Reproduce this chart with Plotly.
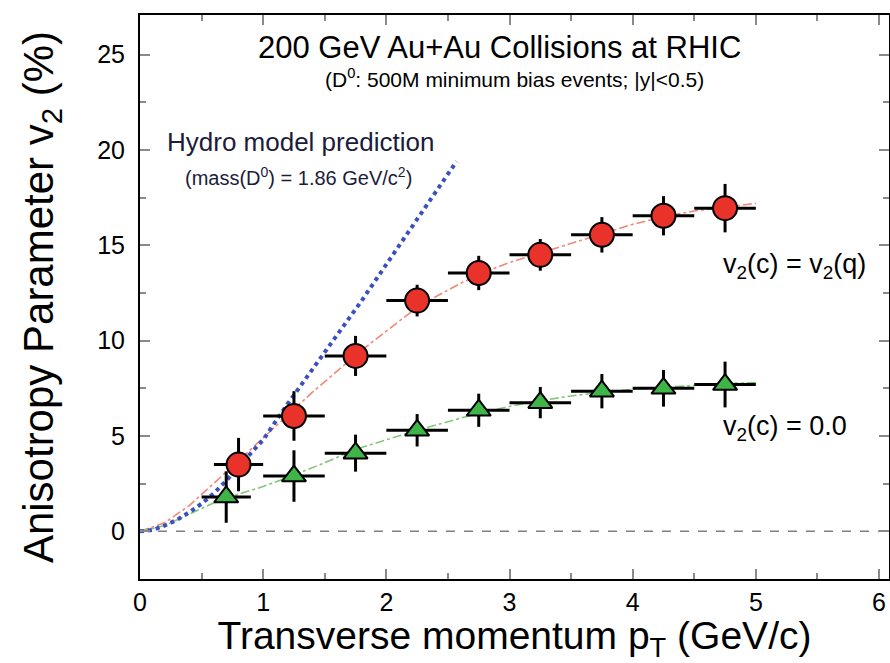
import plotly.graph_objects as go

# D0 v2 projection, v2(c) = v2(q) scenario
red_pt = [0.8, 1.25, 1.75, 2.25, 2.75, 3.25, 3.75, 4.25, 4.75]
red_v2 = [3.5, 6.05, 9.2, 12.1, 13.55, 14.5, 15.55, 16.55, 16.95]
red_err = [1.4, 1.3, 1.05, 0.83, 0.9, 0.83, 0.93, 1.03, 1.27]
red_bin = [0.2, 0.25, 0.25, 0.25, 0.25, 0.25, 0.25, 0.25, 0.25]

# D0 v2 projection, v2(c) = 0 scenario
green_pt = [0.7, 1.25, 1.75, 2.25, 2.75, 3.25, 3.75, 4.25, 4.75]
green_v2 = [1.8, 2.9, 4.1, 5.3, 6.35, 6.75, 7.35, 7.5, 7.7]
green_err = [1.35, 1.35, 0.97, 0.85, 0.87, 0.82, 0.9, 0.96, 1.2]
green_bin = [0.2, 0.25, 0.25, 0.25, 0.25, 0.25, 0.25, 0.25, 0.25]

# coalescence curves
red_fit_pt = [0, 0.2, 0.4, 0.6, 0.8, 1.0, 1.2, 1.4, 1.6, 1.8, 2.0, 2.2, 2.4, 2.6,
              2.8, 3.0, 3.25, 3.5, 3.75, 4.0, 4.25, 4.5, 4.75, 5.0]
red_fit_v2 = [0, 0.45, 1.35, 2.5, 3.7, 4.9, 6.1, 7.3, 8.4, 9.5, 10.5, 11.5, 12.3, 13.0,
              13.6, 14.1, 14.6, 15.1, 15.6, 16.1, 16.5, 16.8, 17.0, 17.2]
green_fit_pt = [0, 0.2, 0.4, 0.6, 0.8, 1.0, 1.25, 1.5, 1.75, 2.0, 2.25, 2.5, 2.75,
                3.0, 3.25, 3.5, 3.75, 4.0, 4.25, 4.5, 4.75, 5.0]
green_fit_v2 = [0, 0.3, 0.9, 1.5, 1.95, 2.35, 2.95, 3.6, 4.3, 4.8, 5.3, 5.75, 6.2,
                6.55, 6.85, 7.1, 7.3, 7.45, 7.55, 7.65, 7.75, 7.8]

# hydrodynamic prediction for mass 1.86 GeV/c^2
hydro_pt = [0, 0.1, 0.2, 0.3, 0.4, 0.5, 0.6, 0.7, 0.8, 0.9, 1.0, 1.2, 1.4, 1.6,
            1.8, 2.0, 2.2, 2.4, 2.57]
hydro_v2 = [0, 0.07, 0.3, 0.6, 1.0, 1.45, 2.0, 2.65, 3.4, 4.1, 4.8, 6.7, 8.5, 10.3,
            12.1, 14.0, 15.9, 17.8, 19.4]

x_ticks = [0, 1, 2, 3, 4, 5, 6]
y_ticks = [0, 5, 10, 15, 20, 25]

FONT = "Liberation Sans, Arial, Helvetica, sans-serif"

fig = go.Figure()

fig.add_trace(go.Scatter(x=red_fit_pt, y=red_fit_v2, mode="lines",
                         line=dict(color="#f08878", width=1.6, dash="dashdot"),
                         showlegend=False, hoverinfo="skip"))
fig.add_trace(go.Scatter(x=green_fit_pt, y=green_fit_v2, mode="lines",
                         line=dict(color="#80c878", width=1.6, dash="dashdot"),
                         showlegend=False, hoverinfo="skip"))
fig.add_trace(go.Scatter(x=hydro_pt, y=hydro_v2, mode="lines",
                         line=dict(color="#3a4fc0", width=4, dash="dot"),
                         showlegend=False, hoverinfo="skip"))

fig.add_trace(go.Scatter(
    x=green_pt, y=green_v2, mode="markers", showlegend=False,
    marker=dict(symbol="triangle-up", size=21, color="#3fb548",
                line=dict(color="black", width=2)),
    error_x=dict(type="data", array=green_bin, color="black", thickness=3, width=0),
    error_y=dict(type="data", array=green_err, color="black", thickness=3, width=0),
))
fig.add_trace(go.Scatter(
    x=red_pt, y=red_v2, mode="markers", showlegend=False,
    marker=dict(symbol="circle", size=24, color="#e8322a",
                line=dict(color="black", width=2)),
    error_x=dict(type="data", array=red_bin, color="black", thickness=3, width=0),
    error_y=dict(type="data", array=red_err, color="black", thickness=3, width=0),
))

# zero reference line
fig.add_shape(type="line", xref="paper", yref="y", x0=0, x1=1, y0=0, y1=0,
              line=dict(color="#808080", width=1.5, dash="dash"), layer="below")

def note(text, x, y, size, xanchor="center", color="black"):
    fig.add_annotation(text=text, x=x, y=y, xref="x", yref="y", showarrow=False,
                       xanchor=xanchor, yanchor="middle",
                       font=dict(family=FONT, size=size, color=color))

note("200 GeV Au+Au Collisions at RHIC", 2.92, 25.4, 31)
note("(D<sup>0</sup>: 500M minimum bias events; |y|<0.5)", 3.04, 23.8, 21)
note("Hydro model prediction", 0.2, 20.4, 26, xanchor="left", color="#1c1c3a")
note("(mass(D<sup>0</sup>) = 1.86 GeV/c<sup>2</sup>)", 1.29, 18.6, 20, color="#1c1c3a")
note("v<sub>2</sub>(c) = v<sub>2</sub>(q)", 4.72, 13.9, 27, xanchor="left")
note("v<sub>2</sub>(c) = 0.0", 4.72, 5.4, 27, xanchor="left")

axis_common = dict(
    showline=True, linecolor="black", linewidth=2, mirror="allticks",
    ticks="inside", ticklen=10, tickwidth=1.5, tickcolor="#8a8a8a",
    showgrid=False, zeroline=False,
    tickfont=dict(family=FONT, size=25, color="black"),
)

fig.update_xaxes(
    range=[0, 6.081], tickmode="array", tickvals=x_ticks, ticklabelstandoff=0,
    minor=dict(dtick=0.5, ticks="inside", ticklen=6, tickcolor="#8a8a8a", tickwidth=1.5),
    title=dict(text="Transverse momentum p<sub>T</sub> (GeV/c)", standoff=10,
               font=dict(family=FONT, size=39, color="black")),
    **axis_common,
)
fig.update_yaxes(
    range=[-2.5, 27.08], tickmode="array", tickvals=y_ticks, ticklabelstandoff=8,
    minor=dict(dtick=2.5, tick0=0, ticks="inside", ticklen=6, tickcolor="#8a8a8a", tickwidth=1.5),
    title=dict(text="Anisotropy Parameter v<sub>2</sub> (%)", standoff=30,
               font=dict(family=FONT, size=42, color="black")),
    **axis_common,
)

fig.update_layout(
    width=890, height=663,
    margin=dict(l=140, r=1, t=15, b=84, autoexpand=False),
    paper_bgcolor="white", plot_bgcolor="white",
    font=dict(family=FONT),
)

fig.write_html("out.html")
